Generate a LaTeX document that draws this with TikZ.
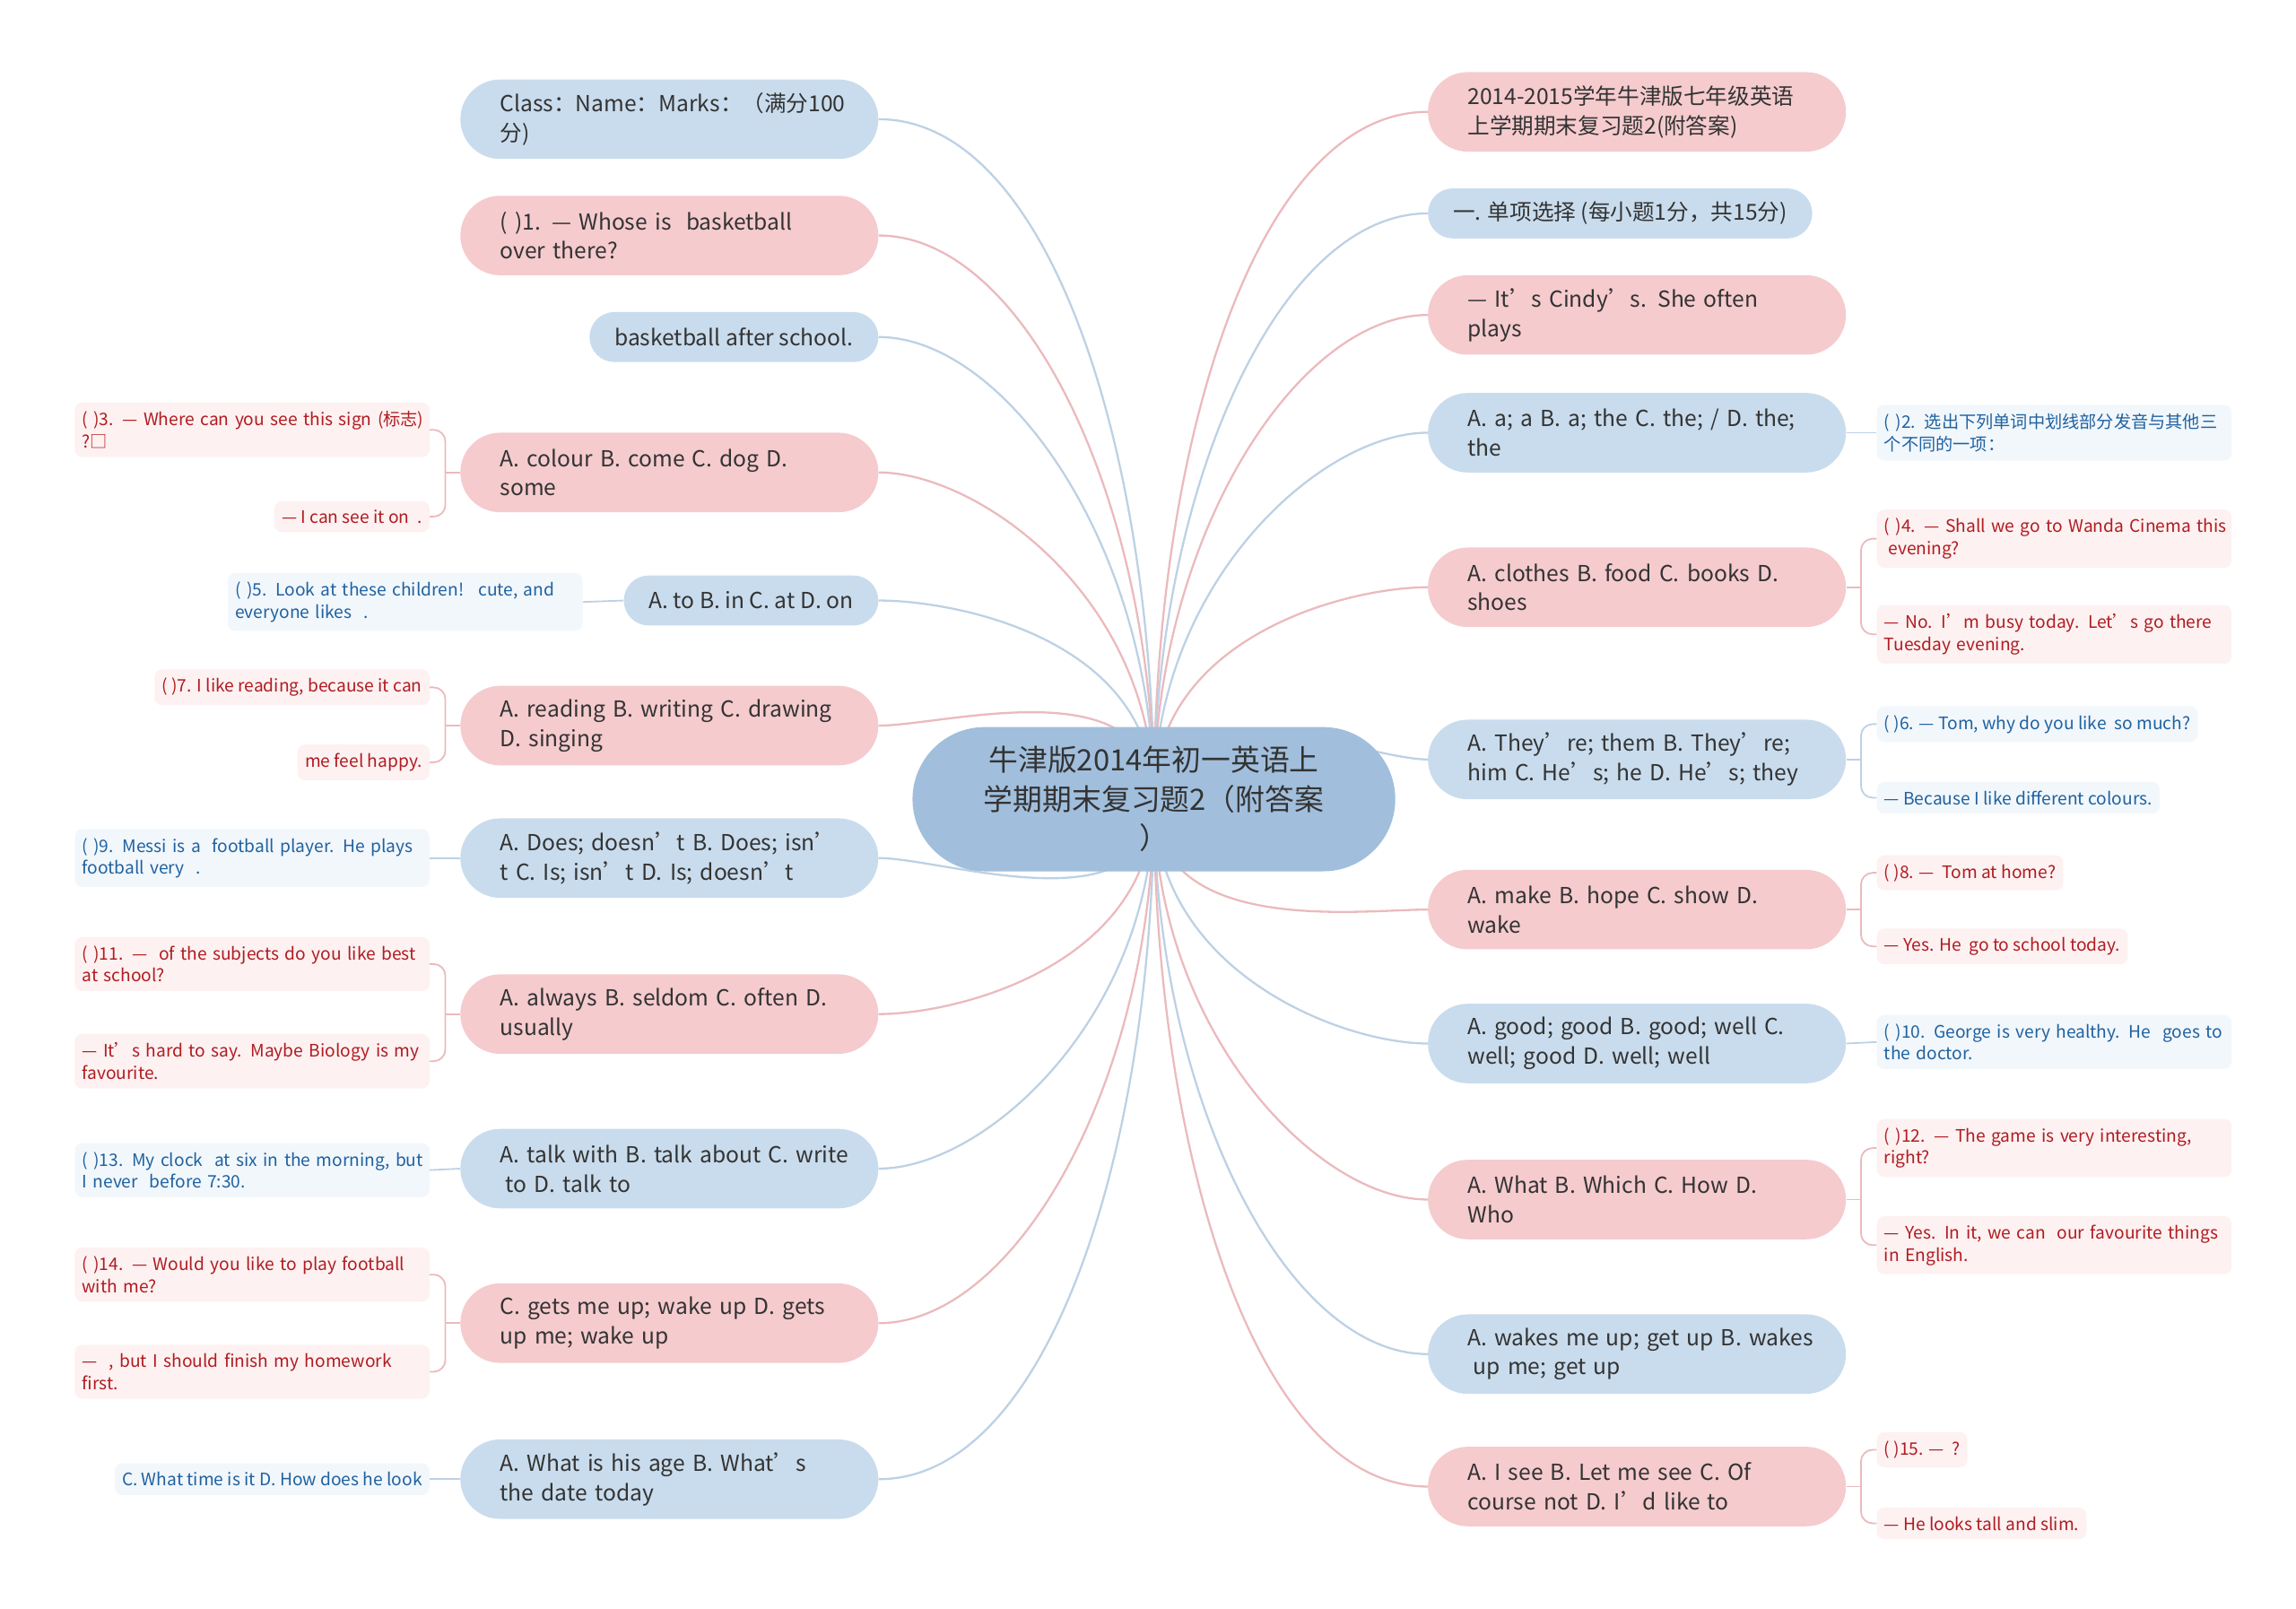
\documentclass[tikz,border=0pt]{standalone}
\usepackage{fontspec}
\setmainfont{Noto Sans CJK SC}
\usetikzlibrary{backgrounds}
\definecolor{pinkfill}{HTML}{F5CBCE}
\definecolor{bluefill}{HTML}{C9DCED}
\definecolor{rootfill}{HTML}{A1BFDC}
\definecolor{pinkwire}{HTML}{EBBABD}
\definecolor{bluewire}{HTML}{BDD1E5}
\definecolor{pinkleaf}{HTML}{FDF1F1}
\definecolor{blueleaf}{HTML}{F2F7FC}
\definecolor{redtext}{HTML}{B01C22}
\definecolor{bluetext}{HTML}{1F62A0}
\definecolor{darktext}{HTML}{333333}

\tikzset{
	rootbox/.style={fill=rootfill,rounded corners=49pt,minimum width=328pt,minimum height=98pt,align=center,text=darktext,font=\fontsize{20}{26.5}\selectfont},
	twoline/.style={rounded corners=27pt,minimum height=54pt,text width=230pt,inner xsep=27pt,align=left,text=darktext,font=\fontsize{15}{20}\selectfont},
	oneline/.style={rounded corners=17pt,minimum height=34pt,inner xsep=17pt,text=darktext,font=\fontsize{15}{20}\selectfont},
	pinkb/.style={fill=pinkfill}, blueb/.style={fill=bluefill},
	leafbox/.style={rounded corners=5pt,inner xsep=5pt,inner ysep=6pt,align=left,font=\fontsize{11.7}{15}\selectfont},
	wideleaf/.style={text width=231pt},
	pinkl/.style={leafbox,fill=pinkleaf,text=redtext},
	bluel/.style={leafbox,fill=blueleaf,text=bluetext},
	pinkc/.style={draw=pinkwire,line width=1.4pt},
	bluec/.style={draw=bluewire,line width=1.4pt},
	up/.style={out=90,out looseness=1.2,in looseness=0.6},
	down/.style={out=270,out looseness=1.2,in looseness=0.6}
}

\begin{document}
\begin{tikzpicture}[x=1pt,y=-1pt]
	\useasboundingbox (0,0) rectangle (1560,1093);
	\node[rootbox] (root) at (784,543) {牛津版2014年初一英语上\\学期期末复习题2（附答案\\）};

	\node[twoline,blueb,anchor=east] (l1) at (597,81) {Class：Name：Marks：（满分100\\分)};
	\node[twoline,pinkb,anchor=east] (l2) at (597,160) {( )1. — Whose is \ basketball\\over there?};
	\node[oneline,blueb,anchor=east] (l3) at (597,229) {basketball after school.};
	\node[twoline,pinkb,anchor=east] (l4) at (597,321) {A. colour B. come C. dog D.\\some};
	\node[oneline,blueb,anchor=east] (l5) at (597,408) {A. to B. in C. at D. on};
	\node[twoline,pinkb,anchor=east] (l6) at (597,493) {A. reading B. writing C. drawing\\D. singing};
	\node[twoline,blueb,anchor=east] (l7) at (597,583) {A. Does; doesn’t B. Does; isn’\\t C. Is; isn’t D. Is; doesn’t};
	\node[twoline,pinkb,anchor=east] (l8) at (597,689) {A. always B. seldom C. often D.\\usually};
	\node[twoline,blueb,anchor=east] (l9) at (597,794) {\mbox{A. talk with B. talk about C. write}\\\hspace*{0.25em}to D. talk to};
	\node[twoline,pinkb,anchor=east] (l10) at (597,899) {C. gets me up; wake up D. gets\\up me; wake up};
	\node[twoline,blueb,anchor=east] (l11) at (597,1005) {A. What is his age B. What’s\\the date today};

	\node[twoline,pinkb,anchor=west] (r1) at (970,76) {2014-2015学年牛津版七年级英语\\上学期期末复习题2(附答案)};
	\node[oneline,blueb,anchor=west] (r2) at (970,145) {一. 单项选择 (每小题1分，共15分)};
	\node[twoline,pinkb,anchor=west] (r3) at (970,214) {— It’s Cindy’s. She often\\plays};
	\node[twoline,blueb,anchor=west] (r4) at (970,294) {A. a; a B. a; the C. the; / D. the;\\the};
	\node[twoline,pinkb,anchor=west] (r5) at (970,399) {A. clothes B. food C. books D.\\shoes};
	\node[twoline,blueb,anchor=west] (r6) at (970,516) {A. They’re; them B. They’re;\\him C. He’s; he D. He’s; they};
	\node[twoline,pinkb,anchor=west] (r7) at (970,618) {A. make B. hope C. show D.\\wake};
	\node[twoline,blueb,anchor=west] (r8) at (970,709) {A. good; good B. good; well C.\\well; good D. well; well};
	\node[twoline,pinkb,anchor=west] (r9) at (970,815) {A. What B. Which C. How D.\\Who};
	\node[twoline,blueb,anchor=west] (r10) at (970,920) {\mbox{A. wakes me up; get up B. wakes}\\\hspace*{0.25em}up me; get up};
	\node[twoline,pinkb,anchor=west] (r11) at (970,1010) {A. I see B. Let me see C. Of\\course not D. I’d like to};

	\node[pinkl,wideleaf,anchor=east] (a4) at (292,292) {\mbox{( )3. — Where can you see this sign (标志)}\\?□};
	\node[pinkl,anchor=east] (b4) at (292,351) {— I can see it on \ .};
	\node[bluel,wideleaf,anchor=east] (a5) at (396,409) {( )5. Look at these children! \ cute, and\\everyone likes \ .};
	\node[pinkl,anchor=east] (a6) at (292,467) {( )7. I like reading, because it can};
	\node[pinkl,anchor=east] (b6) at (292,518) {me feel happy.};
	\node[bluel,wideleaf,anchor=east] (a7) at (292,583) {( )9. Messi is a \ football player. He plays\\football very \ .};
	\node[pinkl,wideleaf,anchor=east] (a8) at (292,655) {( )11. — \ of the subjects do you like best\\at school?};
	\node[pinkl,wideleaf,anchor=east] (b8) at (292,721) {— It’s hard to say. Maybe Biology is my\\favourite.};
	\node[bluel,wideleaf,anchor=east] (a9) at (292,795) {\mbox{( )13. My clock \ at six in the morning, but}\\I never \ before 7:30.};
	\node[pinkl,wideleaf,anchor=east] (a10) at (292,866) {( )14. — Would you like to play football\\with me?};
	\node[pinkl,wideleaf,anchor=east] (b10) at (292,932) {— \ , but I should finish my homework\\first.};
	\node[bluel,anchor=east] (a11) at (292,1005) {C. What time is it D. How does he look};

	\node[bluel,wideleaf,anchor=west] (c4) at (1275,294) {( )2. 选出下列单词中划线部分发音与其他三\\个不同的一项：};
	\node[pinkl,wideleaf,anchor=west] (c5) at (1275,366) {\mbox{( )4. — Shall we go to Wanda Cinema this}\\\hspace*{0.25em}evening?};
	\node[pinkl,wideleaf,anchor=west] (d5) at (1275,431) {— No. I’m busy today. Let’s go there\\Tuesday evening.};
	\node[bluel,anchor=west] (c6) at (1275,492) {( )6. — Tom, why do you like \ so much?};
	\node[bluel,anchor=west] (d6) at (1275,542) {— Because I like different colours.};
	\node[pinkl,anchor=west] (c7) at (1275,593) {( )8. — \ Tom at home?};
	\node[pinkl,anchor=west] (d7) at (1275,643) {— Yes. He \ go to school today.};
	\node[bluel,wideleaf,anchor=west] (c8) at (1275,708) {( )10. George is very healthy. He \ goes to\\the doctor.};
	\node[pinkl,wideleaf,anchor=west] (c9) at (1275,780) {( )12. — The game is very interesting,\\right?};
	\node[pinkl,wideleaf,anchor=west] (d9) at (1275,846) {— Yes. In it, we can \ our favourite things\\in English.};
	\node[pinkl,anchor=west] (c11) at (1275,985) {( )15. — \ ?};
	\node[pinkl,anchor=west] (d11) at (1275,1035) {— He looks tall and slim.};

	\begin{pgfonlayer}{background}
		\draw[bluec] (root.center) to[up,in=0] (l1.east);
		\draw[pinkc] (root.center) to[up,in=0] (l2.east);
		\draw[bluec] (root.center) to[up,in=0] (l3.east);
		\draw[pinkc] (root.center) to[up,in=0] (l4.east);
		\draw[bluec] (root.center) to[up,in=0] (l5.east);
		\draw[pinkc] (root.center) to[up,in=0] (l6.east);
		\draw[bluec] (root.center) to[down,in=0] (l7.east);
		\draw[pinkc] (root.center) to[down,in=0] (l8.east);
		\draw[bluec] (root.center) to[down,in=0] (l9.east);
		\draw[pinkc] (root.center) to[down,in=0] (l10.east);
		\draw[bluec] (root.center) to[down,in=0] (l11.east);
		\draw[pinkc] (root.center) to[up,in=180] (r1.west);
		\draw[bluec] (root.center) to[up,in=180] (r2.west);
		\draw[pinkc] (root.center) to[up,in=180] (r3.west);
		\draw[bluec] (root.center) to[up,in=180] (r4.west);
		\draw[pinkc] (root.center) to[up,in=180] (r5.west);
		\draw[bluec] (root.center) to[up,in=180] (r6.west);
		\draw[pinkc] (root.center) to[down,in=180] (r7.west);
		\draw[bluec] (root.center) to[down,in=180] (r8.west);
		\draw[pinkc] (root.center) to[down,in=180] (r9.west);
		\draw[bluec] (root.center) to[down,in=180] (r10.west);
		\draw[pinkc] (root.center) to[down,in=180] (r11.west);
	\end{pgfonlayer}

	\draw[pinkc,line width=1.1pt] (l4.west) -- ++(-10,0) coordinate (j4);
	\draw[pinkc,line width=1.1pt,rounded corners=8pt] (j4) |- (a4.east) (j4) |- (b4.east);
	\draw[bluec,line width=1.1pt] (l5.west) -- (a5.east);
	\draw[pinkc,line width=1.1pt] (l6.west) -- ++(-10,0) coordinate (j6);
	\draw[pinkc,line width=1.1pt,rounded corners=8pt] (j6) |- (a6.east) (j6) |- (b6.east);
	\draw[bluec,line width=1.1pt] (l7.west) -- (a7.east);
	\draw[pinkc,line width=1.1pt] (l8.west) -- ++(-10,0) coordinate (j8);
	\draw[pinkc,line width=1.1pt,rounded corners=8pt] (j8) |- (a8.east) (j8) |- (b8.east);
	\draw[bluec,line width=1.1pt] (l9.west) -- (a9.east);
	\draw[pinkc,line width=1.1pt] (l10.west) -- ++(-10,0) coordinate (j10);
	\draw[pinkc,line width=1.1pt,rounded corners=8pt] (j10) |- (a10.east) (j10) |- (b10.east);
	\draw[bluec,line width=1.1pt] (l11.west) -- (a11.east);

	\draw[bluec,line width=1.1pt] (r4.east) -- (c4.west);
	\draw[pinkc,line width=1.1pt] (r5.east) -- ++(10,0) coordinate (k5);
	\draw[pinkc,line width=1.1pt,rounded corners=8pt] (k5) |- (c5.west) (k5) |- (d5.west);
	\draw[bluec,line width=1.1pt] (r6.east) -- ++(10,0) coordinate (k6);
	\draw[bluec,line width=1.1pt,rounded corners=8pt] (k6) |- (c6.west) (k6) |- (d6.west);
	\draw[pinkc,line width=1.1pt] (r7.east) -- ++(10,0) coordinate (k7);
	\draw[pinkc,line width=1.1pt,rounded corners=8pt] (k7) |- (c7.west) (k7) |- (d7.west);
	\draw[bluec,line width=1.1pt] (r8.east) -- (c8.west);
	\draw[pinkc,line width=1.1pt] (r9.east) -- ++(10,0) coordinate (k9);
	\draw[pinkc,line width=1.1pt,rounded corners=8pt] (k9) |- (c9.west) (k9) |- (d9.west);
	\draw[pinkc,line width=1.1pt] (r11.east) -- ++(10,0) coordinate (k11);
	\draw[pinkc,line width=1.1pt,rounded corners=8pt] (k11) |- (c11.west) (k11) |- (d11.west);
\end{tikzpicture}
\end{document}
